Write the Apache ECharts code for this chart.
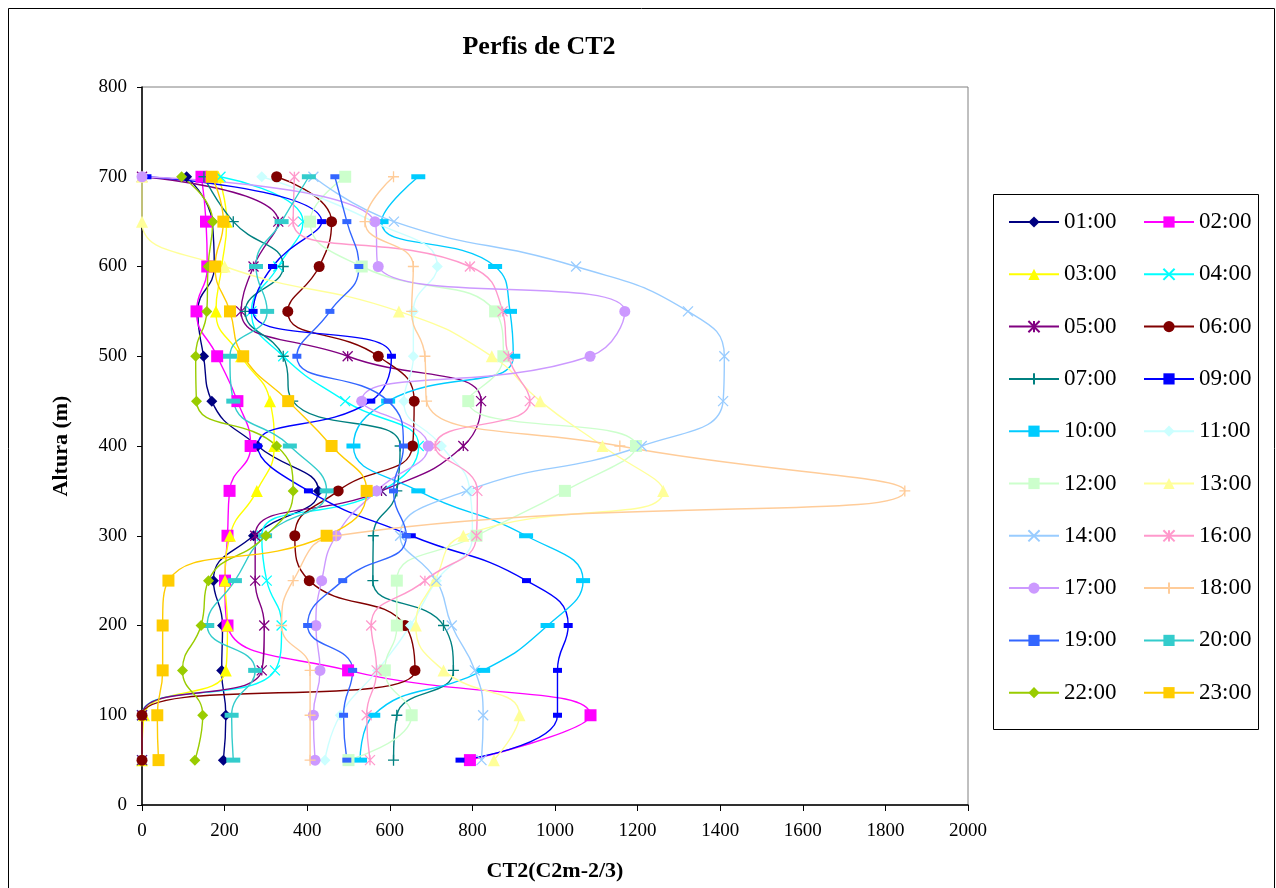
<!DOCTYPE html>
<html>
<head>
<meta charset="utf-8">
<title>Perfis de CT2</title>
<script src="https://cdn.jsdelivr.net/npm/echarts@6/dist/echarts.min.js"></script>
<style>
  html, body { margin: 0; padding: 0; background: #fff; }
  #main { width: 1276px; height: 888px; }
</style>
</head>
<body>
<div id="main"></div>
<script>
// alturas (m), de baixo para cima
var altitudes = [50, 100, 150, 200, 250, 300, 350, 400, 450, 500, 550, 600, 650, 700];

// CT2 por hora, mesma ordem das alturas
var h0100 = [197, 203, 193, 195, 173, 270, 427, 280, 169, 149, 135, 175, 170, 108];
var h0200 = [794, 1086, 499, 207, 201, 207, 212, 263, 231, 182, 132, 158, 155, 144];
var h0300 = [0, 5, 203, 207, 201, 213, 278, 320, 310, 240, 179, 193, 205, 185];
var h0400 = [0, 0, 322, 338, 302, 290, 580, 670, 492, 342, 265, 330, 390, 190];
var h0500 = [0, 0, 290, 296, 274, 274, 580, 778, 821, 498, 240, 270, 330, 0];
var h0600 = [0, 0, 661, 637, 405, 370, 475, 655, 659, 572, 353, 429, 459, 326];
var h0700 = [609, 617, 754, 730, 559, 560, 617, 625, 365, 342, 250, 342, 221, 150];
var h0900 = [770, 1006, 1006, 1032, 931, 652, 403, 280, 554, 604, 269, 316, 435, 12];
var h1000 = [528, 560, 826, 982, 1068, 930, 669, 512, 596, 899, 891, 855, 580, 669];
var h1100 = [443, 480, 570, 650, 713, 800, 794, 725, 634, 657, 657, 715, 560, 290];
var h1200 = [500, 653, 588, 617, 617, 810, 1024, 1196, 790, 875, 855, 532, 407, 492];
var h1300 = [852, 914, 730, 663, 709, 778, 1262, 1115, 964, 847, 622, 200, 0, 0];
var h1400 = [822, 826, 806, 750, 713, 625, 786, 1210, 1407, 1410, 1322, 1051, 610, 415];
var h1600 = [552, 544, 568, 555, 685, 810, 812, 710, 939, 887, 873, 794, 366, 369];
var h1700 = [419, 415, 431, 421, 435, 470, 568, 693, 532, 1085, 1169, 572, 564, 0];
var h1800 = [407, 407, 407, 338, 366, 470, 1847, 1157, 689, 685, 653, 657, 540, 609];
var h1900 = [496, 488, 510, 401, 486, 640, 609, 633, 596, 375, 455, 525, 496, 467];
var h2000 = [221, 217, 274, 158, 225, 298, 447, 358, 221, 213, 303, 276, 338, 404];
var h2200 = [128, 147, 98, 143, 161, 300, 366, 326, 132, 130, 157, 160, 171, 96];
var h2300 = [40, 37, 50, 50, 64, 447, 544, 459, 354, 245, 213, 177, 197, 169];

var xTicks = [0, 200, 400, 600, 800, 1000, 1200, 1400, 1600, 1800, 2000];
var yTicks = [0, 100, 200, 300, 400, 500, 600, 700, 800];

// marcadores estilo Excel
var X_MARK = 'path://M0,0L10,10M10,0L0,10';
var STAR_MARK = 'path://M0,0L10,10M10,0L0,10M5,0L5,10';
var PLUS_MARK = 'path://M5,0L5,10M0,5L10,5';

var seriesDefs = [
  { name: '01:00', data: h0100, color: '#000080', symbol: 'diamond', size: 11 },
  { name: '02:00', data: h0200, color: '#FF00FF', symbol: 'rect', size: 12 },
  { name: '03:00', data: h0300, color: '#FFFF00', symbol: 'triangle', size: 12 },
  { name: '04:00', data: h0400, color: '#00FFFF', symbol: X_MARK, size: 10, stroke: true },
  { name: '05:00', data: h0500, color: '#800080', symbol: STAR_MARK, size: 10, stroke: true },
  { name: '06:00', data: h0600, color: '#800000', symbol: 'circle', size: 11 },
  { name: '07:00', data: h0700, color: '#008080', symbol: PLUS_MARK, size: 11, stroke: true },
  { name: '09:00', data: h0900, color: '#0000FF', symbol: 'rect', size: [9, 5] },
  { name: '10:00', data: h1000, color: '#00CCFF', symbol: 'rect', size: [14, 5] },
  { name: '11:00', data: h1100, color: '#CCFFFF', symbol: 'diamond', size: 11 },
  { name: '12:00', data: h1200, color: '#CCFFCC', symbol: 'rect', size: 12 },
  { name: '13:00', data: h1300, color: '#FFFF99', symbol: 'triangle', size: 12 },
  { name: '14:00', data: h1400, color: '#99CCFF', symbol: X_MARK, size: 10, stroke: true },
  { name: '16:00', data: h1600, color: '#FF99CC', symbol: STAR_MARK, size: 10, stroke: true },
  { name: '17:00', data: h1700, color: '#CC99FF', symbol: 'circle', size: 11 },
  { name: '18:00', data: h1800, color: '#FFCC99', symbol: PLUS_MARK, size: 11, stroke: true },
  { name: '19:00', data: h1900, color: '#3366FF', symbol: 'rect', size: [9, 5] },
  { name: '20:00', data: h2000, color: '#33CCCC', symbol: 'rect', size: [14, 5] },
  { name: '22:00', data: h2200, color: '#99CC00', symbol: 'diamond', size: 11 },
  { name: '23:00', data: h2300, color: '#FFCC00', symbol: 'rect', size: 12 }
];

var FONT = '"Liberation Serif", "Times New Roman", serif';

var series = seriesDefs.map(function (d) {
  return {
    name: d.name,
    type: 'line',
    smooth: 0.5,
    symbol: d.symbol,
    symbolSize: d.size,
    showAllSymbol: true,
    color: d.color,
    lineStyle: { color: d.color, width: 1.4 },
    itemStyle: d.stroke
      ? { color: d.color, borderColor: d.color, borderWidth: 1.3 }
      : { color: d.color, borderWidth: 0 },
    data: d.data.map(function (v, i) { return [v, altitudes[i]]; })
  };
});

var leftNames = [], rightNames = [];
seriesDefs.forEach(function (d, i) {
  (i % 2 === 0 ? leftNames : rightNames).push(d.name);
});

var legendCommon = {
  orient: 'vertical',
  top: 205,
  itemWidth: 50,
  itemHeight: 14,
  itemGap: 28.3,
  selectedMode: false,
  textStyle: { fontFamily: FONT, fontSize: 23, color: '#000', lineHeight: 24 }
};

var myChart = echarts.init(document.getElementById('main'));

var option = {
  animation: false,
  backgroundColor: '#fff',
  title: {
    text: 'Perfis de CT2',
    left: 534,
    top: 29,
    textAlign: 'center',
    textStyle: { fontFamily: FONT, fontSize: 26, fontWeight: 'bold', color: '#000' }
  },
  graphic: [
    { type: 'rect', shape: { x: 8.5, y: 8.5, width: 1266, height: 885 },
      style: { fill: 'none', stroke: '#000', lineWidth: 1 }, silent: true },
    { type: 'rect', shape: { x: 993.5, y: 194.5, width: 265, height: 535 },
      style: { fill: '#fff', stroke: '#000', lineWidth: 1 }, silent: true, z: -1 }
  ],
  legend: [
    Object.assign({}, legendCommon, { left: 1003, data: leftNames }),
    Object.assign({}, legendCommon, { left: 1138, data: rightNames })
  ],
  grid: {
    left: 142, top: 87, width: 826, height: 718,
    show: true, borderColor: '#808080', borderWidth: 1, backgroundColor: '#fff'
  },
  xAxis: {
    type: 'value',
    min: xTicks[0],
    max: xTicks[xTicks.length - 1],
    interval: xTicks[1] - xTicks[0],
    name: 'CT2(C2m-2/3)',
    nameLocation: 'middle',
    nameGap: 55,
    nameTextStyle: { fontFamily: FONT, fontSize: 22, fontWeight: 'bold', color: '#000' },
    axisLine: { show: true, lineStyle: { color: '#000', width: 1.5 } },
    axisTick: { show: true, length: 6, lineStyle: { color: '#000' } },
    axisLabel: {
      fontFamily: FONT, fontSize: 19, color: '#000', margin: 17,
      formatter: function (v) { return String(v); }
    },
    splitLine: { show: false }
  },
  yAxis: {
    type: 'value',
    min: yTicks[0],
    max: yTicks[yTicks.length - 1],
    interval: yTicks[1] - yTicks[0],
    name: 'Altura (m)',
    nameLocation: 'middle',
    nameGap: 70,
    nameTextStyle: { fontFamily: FONT, fontSize: 22, fontWeight: 'bold', color: '#000' },
    axisLine: { show: true, lineStyle: { color: '#000', width: 1.5 } },
    axisTick: { show: true, length: 5, lineStyle: { color: '#000' } },
    axisLabel: {
      fontFamily: FONT, fontSize: 19, color: '#000', margin: 15,
      formatter: function (v) { return String(v); }
    },
    splitLine: { show: false }
  },
  series: series
};

myChart.setOption(option);
</script>
</body>
</html>
